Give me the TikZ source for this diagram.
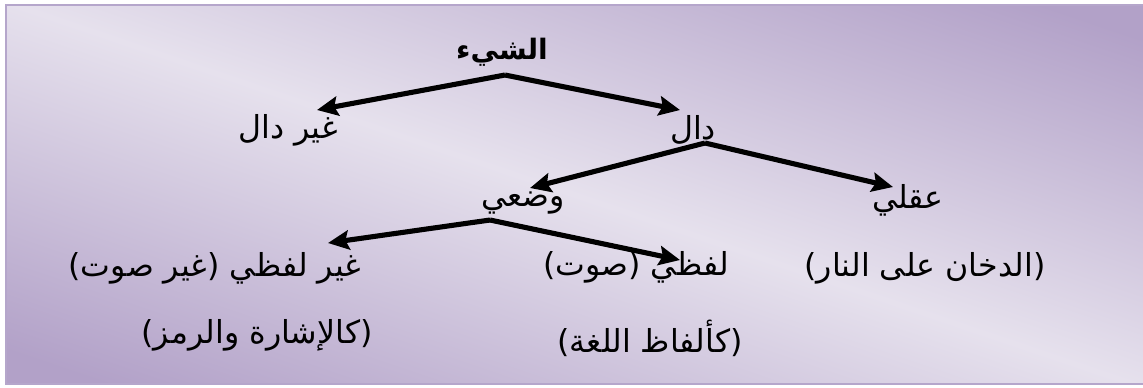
\documentclass[tikz,border=0pt]{standalone}
\usepackage{fontspec}
\newfontfamily\arabicfont[Script=Arabic]{DejaVu Sans}
\TeXXeTstate=1
\usetikzlibrary{arrows.meta}
\definecolor{pdark}{HTML}{B2A1C8}
\definecolor{plight}{HTML}{E6E1ED}
\definecolor{pborder}{HTML}{B5A6CB}
\begin{document}
\begin{tikzpicture}[x=0.02cm,y=-0.02cm,
 lbl/.style={inner sep=0pt, font=\arabicfont\fontsize{18}{22}\selectfont},
 arr/.style={line width=2.9pt, -{Stealth[length=12pt,width=11pt,inset=2pt]}, line join=miter}]
\useasboundingbox (0,0) rectangle (1143,387);
\fill[white] (0,0) rectangle (1143,387);
\begin{scope}
\clip (6,5) rectangle (1143,384);
\fill[pdark] (0,0) rectangle (1143,387);
\shade[transform canvas={rotate around={-18.7:(571.5,193.5)}}, top color=pdark, bottom color=pdark, middle color=plight] (-228.5,-136.5) rectangle (1371.5,523.5);
\end{scope}
\draw[pborder, line width=1.5pt] (1150,5) -- (6,5) -- (6,384) -- (1150,384);

\node[lbl, font=\arabicfont\bfseries\fontsize{16}{20}\selectfont] (root) at (502,52) {\beginR الشيء\endR};
\node[lbl] (ghayr) at (288,130) {\beginR غير دال\endR};
\node[lbl] (dal) at (693,130) {\beginR دال\endR};
\node[lbl] (wadi) at (523,203) {\beginR وضعي\endR};
\node[lbl] (aqli) at (908,200) {\beginR عقلي\endR};
\node[lbl] (dukhan) at (925,268) {\beginR (الدخان على النار)\endR};
\node[lbl] (lafzi) at (636,267) {\beginR لفظي (صوت)\endR};
\node[lbl] (ghlafzi) at (215,268) {\beginR غير لفظي (غير صوت)\endR};
\node[lbl] (alfaz) at (650,338) {\beginR (كألفاظ اللغة)\endR};
\node[lbl] (ishara) at (257,335) {\beginR (كالإشارة والرمز)\endR};

\draw[arr] ([shift={(3,23)}]root.center) -- ([shift={(29,-20)}]ghayr.center);
\draw[arr] ([shift={(3,23)}]root.center) -- ([shift={(-13,-20)}]dal.center);
\draw[arr] ([shift={(12,13)}]dal.center) -- ([shift={(7,-15)}]wadi.center);
\draw[arr] ([shift={(12,13)}]dal.center) -- ([shift={(-15,-13)}]aqli.center);
\draw[arr] ([shift={(-33,17)}]wadi.center) -- ([shift={(113,-25)}]ghlafzi.center);
\draw[arr] ([shift={(-33,17)}]wadi.center) -- ([shift={(44,-7)}]lafzi.center);
\end{tikzpicture}
\end{document}
